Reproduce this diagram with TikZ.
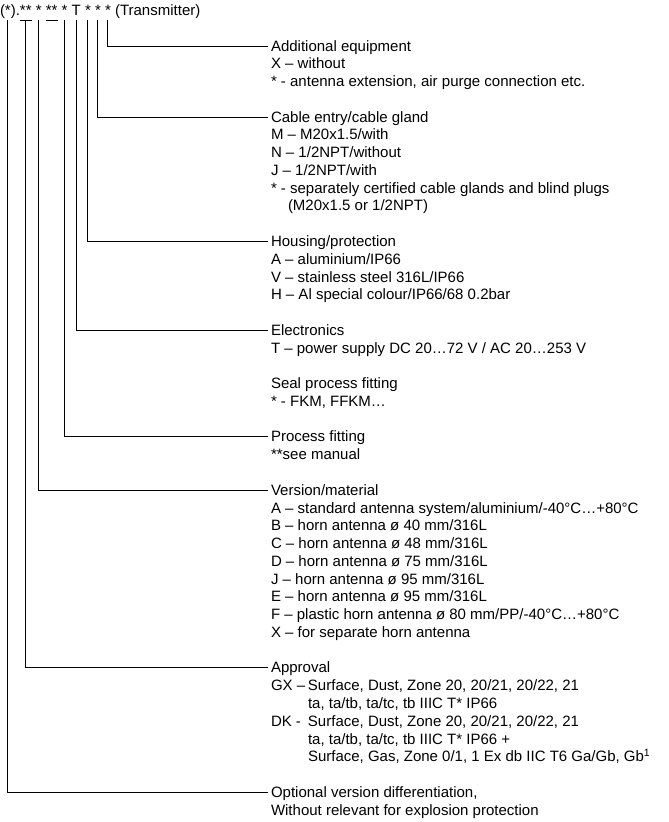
\documentclass[tikz,border=0pt]{standalone}
\usepackage{fontspec}
\setmainfont{Liberation Sans}
\usetikzlibrary{positioning}
\newcommand{\entryfont}{\fontsize{15}{17.77}\selectfont}

\begin{document}
\begin{tikzpicture}[x=1pt, y=1pt,
  code/.style={inner sep=0pt, outer sep=0pt, font=\entryfont},
  entry/.style={inner sep=0pt, outer sep=0pt, anchor=north west, align=left, font=\entryfont},
  lead/.style={line width=1pt}]
\useasboundingbox (0,0) rectangle (669,-822);

\node (opt) [code, anchor=base west] at (0,-15) {(*)};
\node (dot) [code, base right=0pt of opt] {.};
\node (appr) [code, base right=0pt of dot] {**};
\node (vers) [code, base right=4.17pt of appr] {*};
\node (seal) [code, base right=4.17pt of vers] {**};
\node (proc) [code, base right=4.17pt of seal] {*};
\node (elec) [code, base right=4.17pt of proc] {T};
\node (hous) [code, base right=4.17pt of elec] {*};
\node (cabl) [code, base right=4.17pt of hous] {*};
\node (addq) [code, base right=4.17pt of cabl] {*};
\node (trans) [code, base right=4.17pt of addq] {(Transmitter)};

\node (addE) [entry] at (271,-38.6) {\strut Additional equipment\\
  X – without\\
  * - antenna extension, air purge connection etc.};
\node (cablE) [entry] at (271,-109.7) {\strut Cable entry/cable gland\\
  M – M20x1.5/with\\
  N – 1/2NPT/without\\
  J – 1/2NPT/with\\
  * - separately certified cable glands and blind plugs\\
  \hspace*{17pt}(M20x1.5 or 1/2NPT)};
\node (housE) [entry] at (271,-234.1) {\strut Housing/protection\\
  A – aluminium/IP66\\
  V – stainless steel 316L/IP66\\
  H – Al special colour/IP66/68 0.2bar};
\node (elecE) [entry] at (271,-322.9) {\strut Electronics\\
  T – power supply DC 20…72 V / AC 20…253 V};
\node (sealE) [entry] at (271,-376.2) {\strut Seal process fitting\\
  * - FKM, FFKM…};
\node (procE) [entry] at (271,-429.5) {\strut Process fitting\\
  **see manual};
\node (versE) [entry] at (271,-482.9) {\strut Version/material\\
  A – standard antenna system/aluminium/-40°C…+80°C\\
  B – horn antenna ø 40 mm/316L\\
  C – horn antenna ø 48 mm/316L\\
  D – horn antenna ø 75 mm/316L\\
  J – horn antenna ø 95 mm/316L\\
  E – horn antenna ø 95 mm/316L\\
  F – plastic horn antenna ø 80 mm/PP/-40°C…+80°C\\
  X – for separate horn antenna};
\node (apprE) [entry] at (271,-660.5) {\strut Approval\\
  \makebox[37pt][l]{GX –}Surface, Dust, Zone 20, 20/21, 20/22, 21\\
  \hspace*{37pt}ta, ta/tb, ta/tc, tb IIIC T* IP66\\
  \makebox[37pt][l]{DK -}Surface, Dust, Zone 20, 20/21, 20/22, 21\\
  \hspace*{37pt}ta, ta/tb, ta/tc, tb IIIC T* IP66 +\\
  \hspace*{37pt}Surface, Gas, Zone 0/1, 1 Ex db IIC T6 Ga/Gb, Gb\textsuperscript{1}};
\node (optE) [entry] at (271,-784.9) {\strut Optional version differentiation,\\
  Without relevant for explosion protection};

\draw [lead] ([yshift=-5pt]appr.base west) -- ([yshift=-5pt]appr.base east);
\draw [lead] ([yshift=-5pt]seal.base west) -- ([yshift=-5pt]seal.base east);

\draw [lead] ([yshift=-5pt]addq.base) |- ([shift={(-3pt,-7.4pt)}]addE.north west);
\draw [lead] ([yshift=-5pt]cabl.base) |- ([shift={(-3pt,-7.4pt)}]cablE.north west);
\draw [lead] ([yshift=-5pt]hous.base) |- ([shift={(-3pt,-7.4pt)}]housE.north west);
\draw [lead] ([yshift=-5pt]elec.base) |- ([shift={(-3pt,-7.4pt)}]elecE.north west);
\draw [lead] ([yshift=-5pt]proc.base) |- ([shift={(-3pt,-7.4pt)}]procE.north west);
\draw [lead] ([yshift=-5pt]vers.base) |- ([shift={(-3pt,-7.4pt)}]versE.north west);
\draw [lead] ([yshift=-5pt]appr.base) |- ([shift={(-3pt,-7.4pt)}]apprE.north west);
\draw [lead] ([yshift=-5pt]opt.base) |- ([shift={(-3pt,-7.4pt)}]optE.north west);
\end{tikzpicture}
\end{document}
